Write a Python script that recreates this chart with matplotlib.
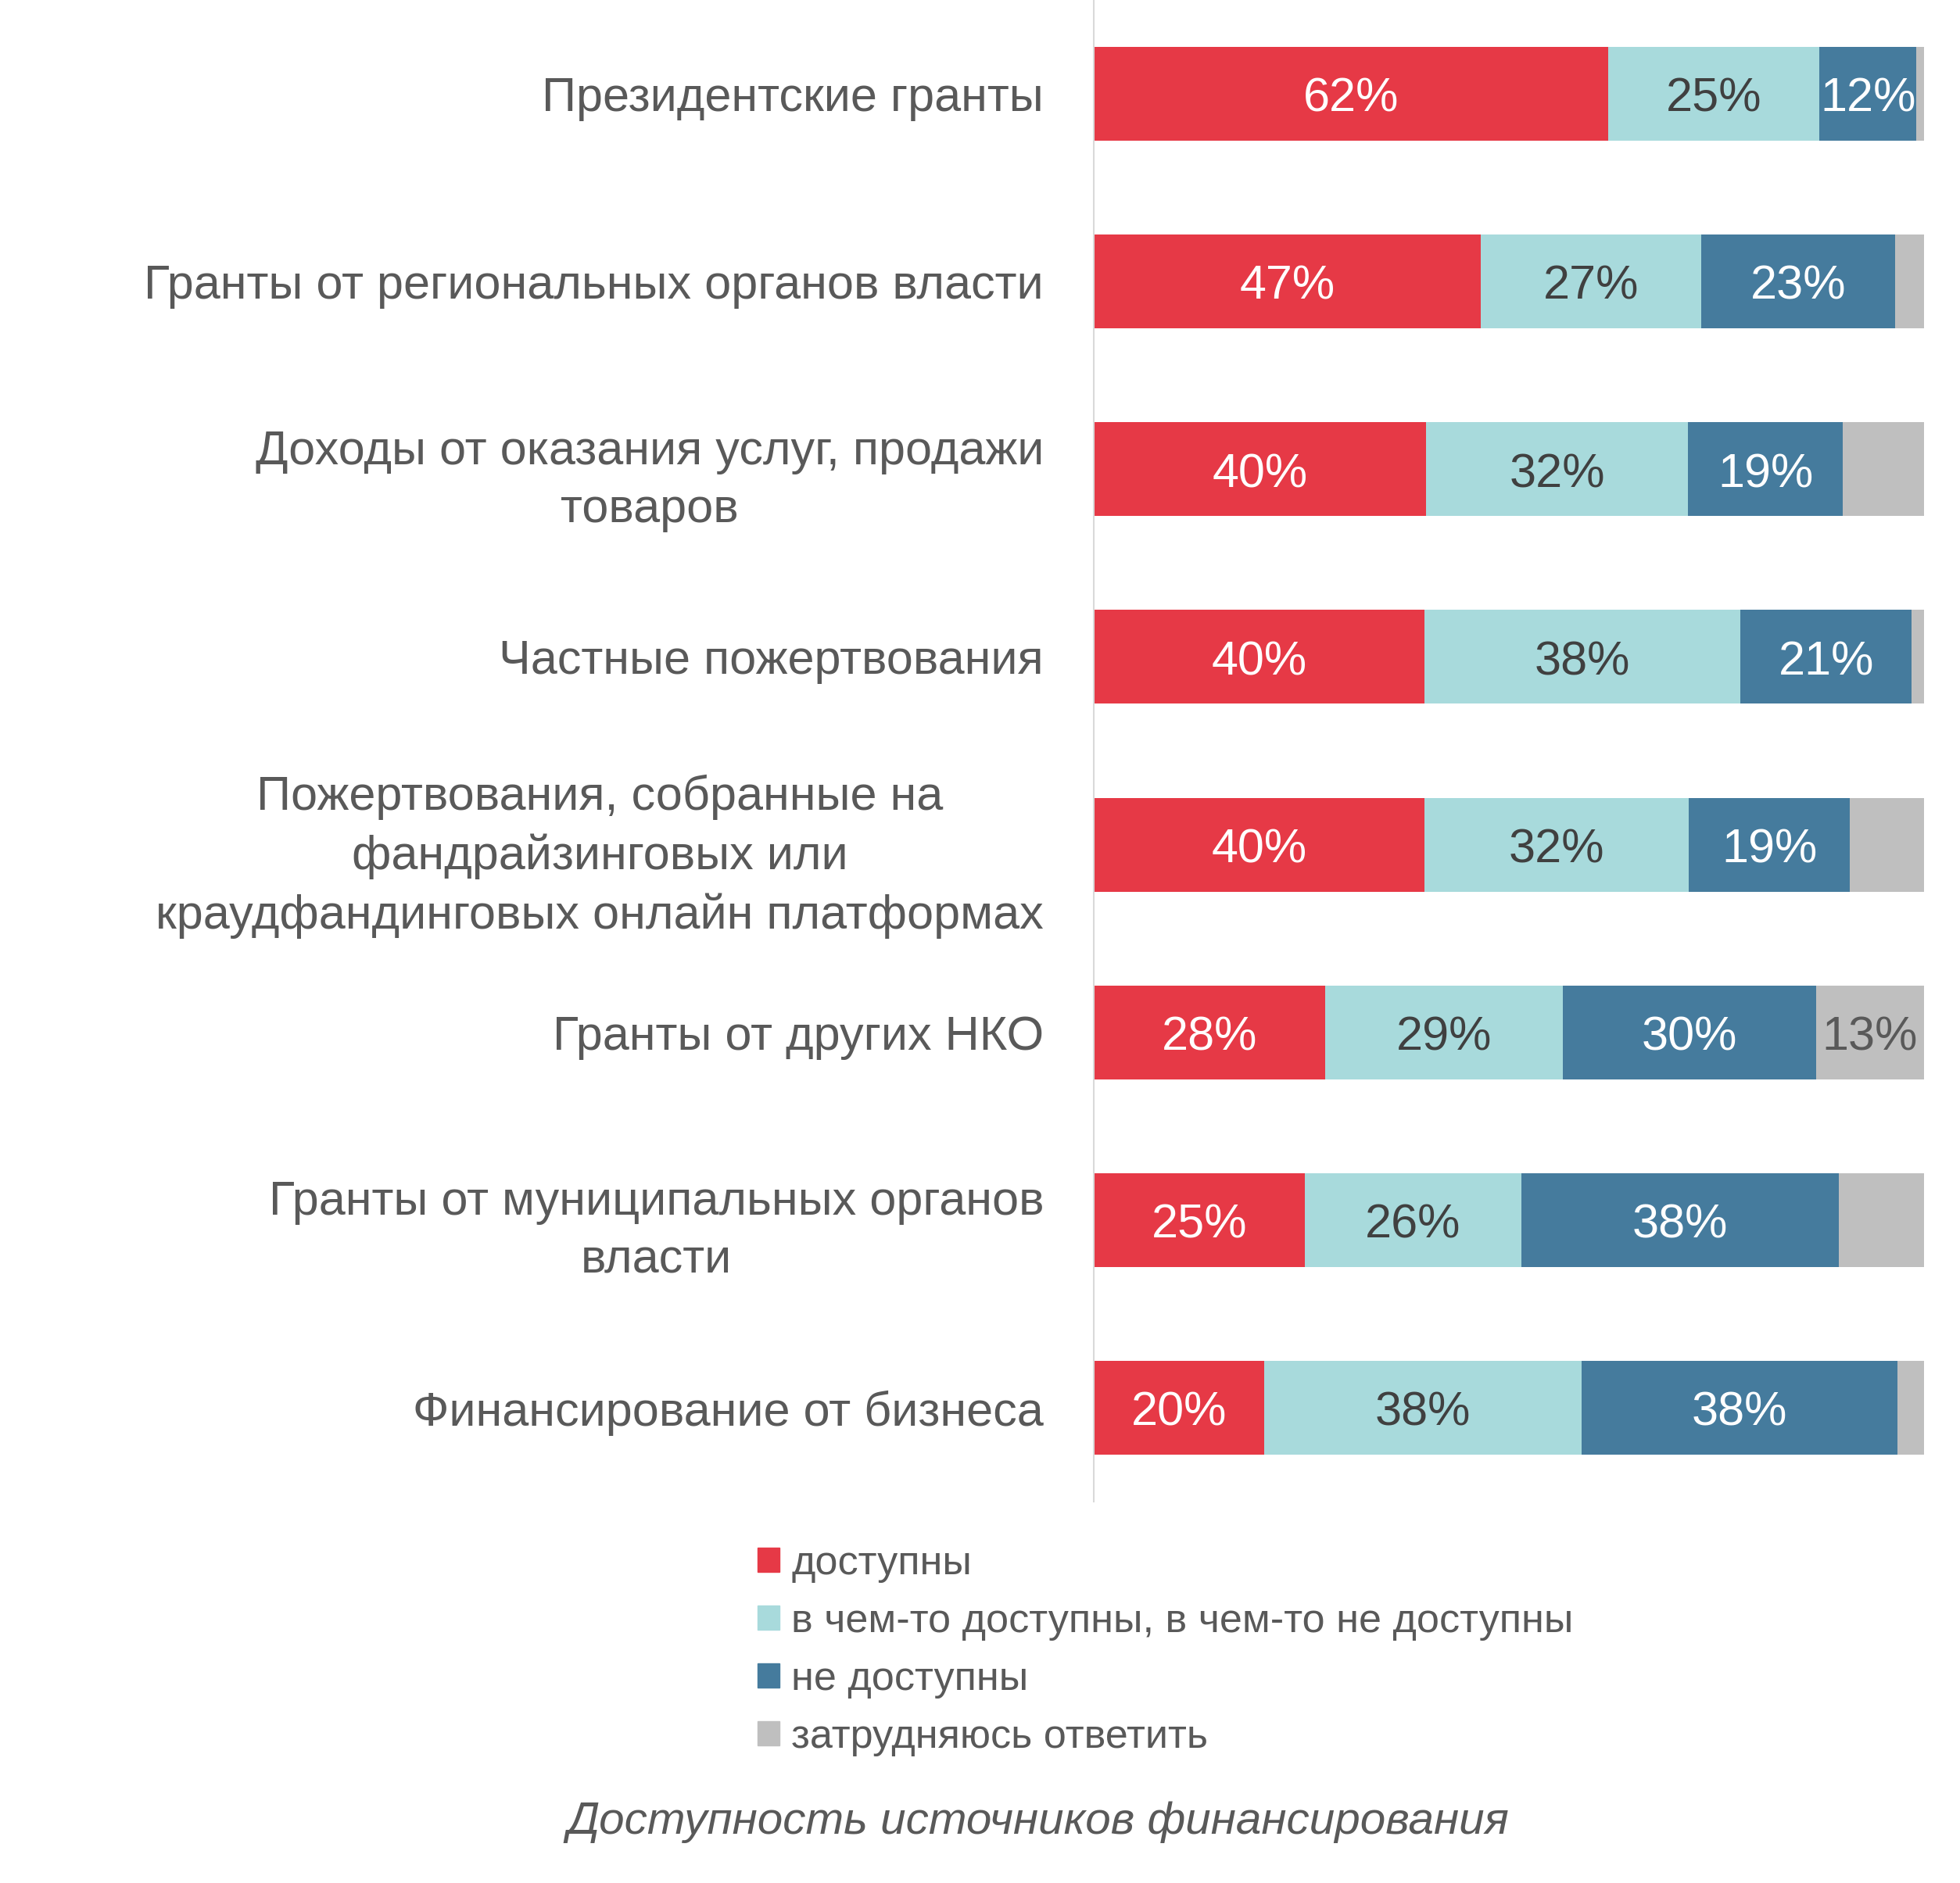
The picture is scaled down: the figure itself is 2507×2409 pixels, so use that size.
import numpy as np
import matplotlib
matplotlib.use("Agg")
import matplotlib.pyplot as plt
from matplotlib.patches import Patch

plt.rcParams['font.family'] = ['Liberation Sans Narrow', 'Liberation Sans', 'DejaVu Sans']

# данные
categories = [
    'Президентские гранты',
    'Гранты от региональных органов власти',
    'Доходы от оказания услуг, продажи\nтоваров',
    'Частные пожертвования',
    'Пожертвования, собранные на\nфандрайзинговых или\nкраудфандинговых онлайн платформах',
    'Гранты от других НКО',
    'Гранты от муниципальных органов\nвласти',
    'Финансирование от бизнеса',
]
dostupny = [62.0, 46.6, 40.0, 39.8, 39.8, 27.9, 25.4, 20.5]
chastichno = [25.4, 26.6, 31.6, 38.1, 31.9, 28.6, 26.1, 38.3]
ne_dostupny = [11.7, 23.3, 18.6, 20.6, 19.4, 30.5, 38.2, 38.0]
zatrudnyayus = [0.9, 3.5, 9.8, 1.5, 8.9, 13.0, 10.3, 3.2]

series_names = ['доступны', 'в чем-то доступны, в чем-то не доступны',
                'не доступны', 'затрудняюсь ответить']
series_colors = ['#E63946', '#A8DADC', '#457B9D', '#BFBFBF']
text_colors = ['white', '#404040', 'white', '#595959']

W, H = 2507, 2409
fig = plt.figure(figsize=(W / 100, H / 100), dpi=100)
ax = fig.add_axes([1399 / W, 1 - 1921 / H, (2461 - 1399) / W, 1921 / H])

y = np.arange(len(categories))
left = np.zeros(len(categories))
for vals, name, col, tcol in zip([dostupny, chastichno, ne_dostupny, zatrudnyayus],
                                 series_names, series_colors, text_colors):
    vals = np.array(vals)
    ax.barh(y, vals, left=left, height=0.5, color=col, label=name)
    for yi, l, v in zip(y, left, vals):
        if v >= 11:
            ax.text(l + v / 2, yi + 0.03, f'{round(v):.0f}%', ha='center', va='center',
                    fontsize=44, color=tcol)
    left += vals

ax.set_xlim(0, 100)
ax.set_ylim(len(categories) - 0.5, -0.5)
ax.set_xticks([])
ax.set_yticks(y)
ax.set_yticklabels(categories, fontsize=44, color='#595959')
for lab in ax.get_yticklabels():
    lab.set_multialignment('center')
    lab.set_linespacing(1.38)
ax.tick_params(axis='y', length=0, pad=46)
for side in ['top', 'right', 'bottom']:
    ax.spines[side].set_visible(False)
ax.spines['left'].set_color('#D9D9D9')
ax.spines['left'].set_linewidth(1.5)

handles = [Patch(color=c) for c in series_colors]
fig.legend(handles, series_names, loc='upper left', bbox_to_anchor=(969 / W, 1 - 1976 / H),
           frameon=False, fontsize=37.5, handlelength=0.53, handleheight=0.53,
           handletextpad=0.3, labelspacing=0.48, borderpad=0, borderaxespad=0,
           labelcolor='#595959')

fig.text(1328 / W, 1 - 2331 / H, 'Доступность источников финансирования',
         ha='center', va='center', fontsize=42, style='italic', color='#595959')

fig.savefig('out.png', dpi=100, facecolor='white')
